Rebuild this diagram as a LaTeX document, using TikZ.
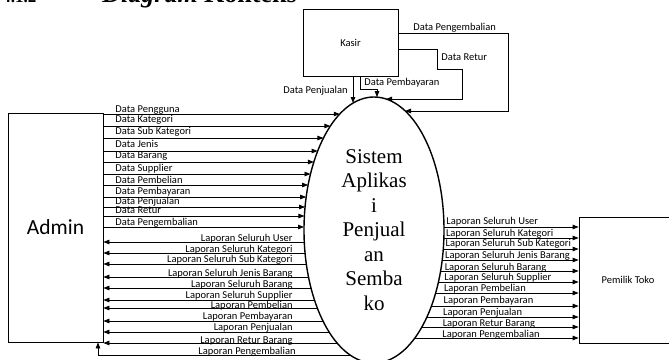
\documentclass[tikz,border=0pt]{standalone}
\usepackage{fontspec}
\setmainfont{Liberation Serif}
\newfontfamily\lblfont{Carlito}
\usetikzlibrary{arrows.meta,shapes.geometric}

\begin{document}
\begin{tikzpicture}[x=1pt, y=-1pt, line width=0.8pt,
  ent/.style={draw, rectangle, inner sep=0pt, font=\lblfont\fontsize{10.5}{12}\selectfont},
  lbl/.style={inner sep=0pt, font=\lblfont\fontsize{10.5}{12}\selectfont},
  flow/.style={-{Triangle[length=6pt,width=4.5pt]}}]
\useasboundingbox (0,0) rectangle (669,359);
\clip (0,0) rectangle (669,359);
% judul (terpotong di atas)
\node[anchor=base west, inner sep=0pt, font=\bfseries\fontsize{26}{28}\selectfont] (judul) at (2,2.5) {{\fontsize{17}{18}\selectfont 4.1.2}\hspace{66pt}\textit{Diagram} Konteks};

\begin{scope}
\node[ent, minimum width=95pt, minimum height=67pt] (kasir) at (350.5,42.5) {Kasir};
\node[ent, minimum width=95pt, minimum height=229pt, font=\lblfont\fontsize{21.5}{24}\selectfont] (admin) at (55.5,227.5) {Admin};
\node[ent, minimum width=98pt, minimum height=126pt] (pemilik) at (628,280) {Pemilik Toko};
\node[draw, ellipse, line width=1.4pt, minimum width=140pt, minimum height=266pt, inner sep=0pt, align=center, font=\fontsize{21}{24.5}\selectfont] (sistem) at (374,230) {Sistem\\Aplikas\\i\\Penjual\\an\\Semba\\ko};
\end{scope}

% admin -> sistem
\foreach \y/\b/\t [count=\i] in {114/112.4/Data Pengguna, 126/122.4/Data Kategori, 138/134.4/Data Sub Kategori, 151/147.4/Data Jenis, 162/158.4/Data Barang, 174/171.4/Data Supplier, 185/183.4/Data Pembelian, 197/194.4/Data Pembayaran, 207/204.4/Data Penjualan, 216/213.4/Data Retur, 227/225.4/Data Pengembalian}{
  \pgfmathsetmacro\ex{374-70*sqrt(1-((\y-230)/133)*((\y-230)/133))}
  \draw[flow] (admin.east |- 0,\y) -- (\ex,\y);
  \node[lbl, anchor=base west] (dl\i) at (115,\b) {\t};
}

% sistem -> admin
\foreach \y/\b/\t [count=\i] in {242/241.4/Laporan Seluruh User, 253/252.4/Laporan Seluruh Kategori, 264/262.4/Laporan Seluruh Sub Kategori, 277/276.4/Laporan Seluruh Jenis Barang, 288/287.4/Laporan Seluruh Barang, 300/298.4/Laporan Seluruh Supplier, 308/308.4/Laporan Pembelian, 321/319.4/Laporan Pembayaran, 332/330.4/Laporan Penjualan, 343/343/Laporan Retur Barang}{
  \pgfmathsetmacro\ex{374-70*sqrt(1-((\y-230)/133)*((\y-230)/133))}
  \draw[flow] (\ex,\y) -- (admin.east |- 0,\y);
  \node[lbl, anchor=base east] (ll\i) at (293,\b) {\t};
}
\coordinate (kb) at (350,355);
\draw[flow] (kb) -| (admin.south -| 98,0);
\node[lbl, anchor=base east] (ll11) at (296,354.4) {Laporan Pengembalian};

% sistem -> pemilik toko
\foreach \y/\b/\t [count=\i] in {227/224/Laporan Seluruh User, 238/236/Laporan Seluruh Kategori, 249/246.4/Laporan Seluruh Sub Kategori, 260/258.4/Laporan Seluruh Jenis Barang, 271/270/Laporan Seluruh Barang, 282/280/Laporan Seluruh Supplier, 293/291.4/Laporan Pembelian, 306/303.4/Laporan Pembayaran, 317/315/Laporan Penjualan, 327/326.4/Laporan Retur Barang, 338/337.4/Laporan Pengembalian}{
  \pgfmathsetmacro\ex{374+70*sqrt(1-((\y-230)/133)*((\y-230)/133))}
  \draw[flow] (\ex,\y) -- (pemilik.west |- 0,\y);
  \node[lbl, anchor=base west] (pl\i) at (446.4-0.4*\i,\b) {\t};
}

% kasir -> sistem
\coordinate (pj) at (353,103);
\draw[flow] (kasir.south -| pj) -- (pj);
\node[lbl, anchor=base east] (lpj) at (348,93.5) {Data Penjualan};
\coordinate (pb) at (377,97.1);
\draw[flow] (kasir.south -| 360,0) |- (pb |- 0,89) -- (pb);
\node[lbl, anchor=base west] (lpb) at (364,85) {Data Pembayaran};
\coordinate (rt) at (386,99);
\draw[flow] (kasir.east |- 0,49) -| (437,69) -| (462,99) -- (rt);
\node[lbl, anchor=base west] (lrt) at (441,60) {Data Retur};
\coordinate (pg) at (405,111);
\draw[flow] (kasir.east |- 0,33) -| (508,111) -- (pg);
\node[lbl, anchor=base west] (lpg) at (413,30) {Data Pengembalian};
\end{tikzpicture}
\end{document}
